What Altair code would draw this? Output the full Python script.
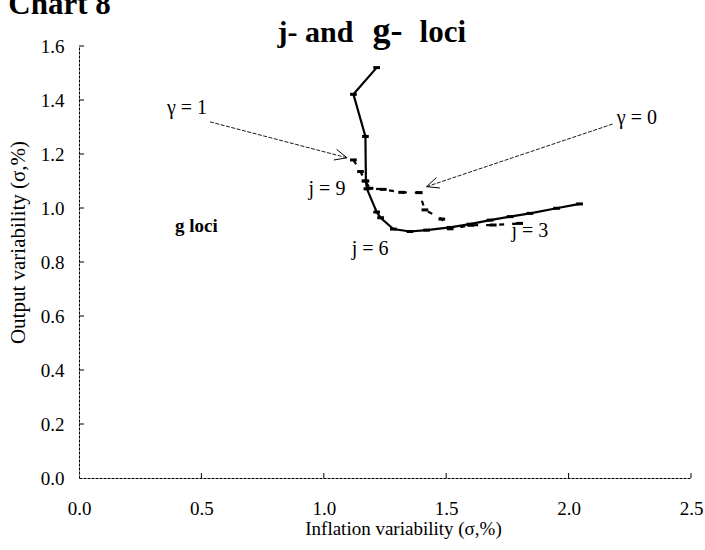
import math
import altair as alt
import pandas as pd

# ---- data ----
solid_x = [1.216, 1.121, 1.170, 1.172, 1.176, 1.216, 1.232, 1.284, 1.352, 1.420, 1.516, 1.597, 1.679, 1.761, 1.842, 1.951, 2.045]
solid_y = [1.520, 1.421, 1.265, 1.100, 1.071, 0.985, 0.964, 0.922, 0.913, 0.918, 0.928, 0.940, 0.955, 0.968, 0.980, 0.999, 1.015]

dashed_x = [1.121, 1.150, 1.168, 1.189, 1.243, 1.318, 1.390, 1.413, 1.482, 1.516, 1.600, 1.692, 1.800]
dashed_y = [1.178, 1.135, 1.100, 1.073, 1.069, 1.058, 1.057, 0.993, 0.959, 0.923, 0.936, 0.937, 0.943]

x_ticks = [0.0, 0.5, 1.0, 1.5, 2.0, 2.5]
y_ticks = [0.0, 0.2, 0.4, 0.6, 0.8, 1.0, 1.2, 1.4, 1.6]

ann_text = ["γ = 1", "γ = 0", "j = 9", "j = 6", "j = 3"]
ann_x = [0.441, 2.279, 1.013, 1.189, 1.842]
ann_y = [1.371, 1.334, 1.072, 0.850, 0.913]

arrow_x1 = [0.535, 2.180]
arrow_y1 = [1.319, 1.311]
arrow_x2 = [1.095, 1.420]
arrow_y2 = [1.186, 1.079]

# ---- layout ----
W, H = 612, 432
XMAX, YMAX = 2.5, 1.6
FONT = "Liberation Serif"

xs = alt.Scale(domain=[0, XMAX], nice=False, zero=True)
ys = alt.Scale(domain=[0, YMAX], nice=False, zero=True)

xaxis = alt.Axis(values=x_ticks, format=".1f", grid=False, ticks=False,
                 labelFont=FONT, labelFontSize=19, labelColor="black", labelPadding=21,
                 labelFlush=False, labelOverlap=False,
                 domainColor="black", domainWidth=1, domainDash=[3, 1],
                 title="Inflation variability (σ,%)", titleFont=FONT, titleFontSize=19,
                 titleFontWeight="normal", titleColor="black",
                 titleX=324, titleY=50, titleBaseline="middle", titleAlign="center")
yaxis = alt.Axis(values=y_ticks, format=".1f", grid=False, ticks=False,
                 labelFont=FONT, labelFontSize=19, labelColor="black", labelPadding=15,
                 labelFlush=False, labelOverlap=False,
                 domainColor="black", domainWidth=1, domainDash=[3, 1],
                 title="Output variability (σ,%)", titleFont=FONT, titleFontSize=21,
                 titleFontWeight="normal", titleColor="black", titleAngle=270,
                 titleX=-61, titleY=196, titleBaseline="middle", titleAlign="center")

X = alt.X("x:Q", scale=xs, axis=xaxis)
Y = alt.Y("y:Q", scale=ys, axis=yaxis)

solid = pd.DataFrame({"x": solid_x, "y": solid_y, "o": list(range(len(solid_x)))})
dashed = pd.DataFrame({"x": dashed_x, "y": dashed_y, "o": list(range(len(dashed_x)))})

solid_line = alt.Chart(solid).mark_line(color="black", strokeWidth=2.2).encode(
    x=X, y=Y, order="o:Q")
dashed_line = alt.Chart(dashed).mark_line(color="black", strokeWidth=2.2, strokeDash=[5, 8]).encode(
    x=X, y=Y, order="o:Q")

blob = "M-1,-0.45L1,-0.45L1,0.45L-1,0.45Z"
solid_pts = alt.Chart(solid).mark_point(shape=blob, filled=True, color="black", size=45, opacity=1).encode(x=X, y=Y)
dashed_pts = alt.Chart(dashed).mark_point(shape=blob, filled=True, color="black", size=45, opacity=1).encode(x=X, y=Y)

# inward tick marks
tx = pd.DataFrame({"x": x_ticks[1:], "y": [0.0] * (len(x_ticks) - 1),
                   "y2": [5 * YMAX / H] * (len(x_ticks) - 1)})
ty = pd.DataFrame({"x": [0.0] * (len(y_ticks) - 1), "x2": [5 * XMAX / W] * (len(y_ticks) - 1),
                   "y": y_ticks[1:]})
xtick_rules = alt.Chart(tx).mark_rule(color="black", strokeWidth=1).encode(x=X, y=Y, y2="y2:Q")
ytick_rules = alt.Chart(ty).mark_rule(color="black", strokeWidth=1).encode(x=X, x2="x2:Q", y=Y)

# arrows
arr = pd.DataFrame({"x": arrow_x1, "y": arrow_y1, "x2": arrow_x2, "y2": arrow_y2})
arrow_lines = alt.Chart(arr).mark_rule(color="black", strokeWidth=0.9, strokeDash=[4, 1.5]).encode(
    x=X, y=Y, x2="x2:Q", y2="y2:Q")
angles = []
for a, b, c, d in zip(arrow_x1, arrow_y1, arrow_x2, arrow_y2):
    dx = (c - a) * W / XMAX
    dy = -(d - b) * H / YMAX
    angles.append(math.degrees(math.atan2(dx, -dy)) % 360)
heads = pd.DataFrame({"x": arrow_x2, "y": arrow_y2, "ang": angles})
arrow_heads = alt.Chart(heads).mark_point(shape="M-0.45,1L0,0L0.45,1", filled=False, color="black",
                                          strokeWidth=0.9, size=600, opacity=1).encode(
    x=X, y=Y, angle=alt.Angle("ang:Q", scale=None))

ann = pd.DataFrame({"x": ann_x, "y": ann_y, "t": ann_text})
ann_marks = alt.Chart(ann).mark_text(font=FONT, fontSize=20, color="black", align="center",
                                     baseline="middle").encode(x=X, y=Y, text="t:N")

gl = pd.DataFrame({"x": [0.392], "y": [0.911], "t": ["g loci"]})
gloci = alt.Chart(gl).mark_text(font=FONT, fontSize=19, fontWeight="bold", color="black",
                                align="left", baseline="alphabetic").encode(x=X, y=Y, text="t:N")

tt = pd.DataFrame({"x": [0.811, 1.199, 1.391], "y": [1.615, 1.615, 1.615],
                   "t": ["j- and", "g-", "loci"], "s": [30, 36, 31]})
title_marks = alt.Chart(tt).mark_text(font=FONT, fontWeight="bold", color="black",
                                      align="left", baseline="alphabetic").encode(
    x=X, y=Y, text="t:N", size=alt.Size("s:Q", scale=None, legend=None))

ct = pd.DataFrame({"x": [-0.289], "y": [1.718], "t": ["Chart 8"]})
chart8 = alt.Chart(ct).mark_text(font=FONT, fontSize=31, fontWeight="bold", color="black",
                                 align="left", baseline="alphabetic").encode(x=X, y=Y, text="t:N")

chart = alt.layer(
    xtick_rules, ytick_rules, arrow_lines, arrow_heads,
    dashed_line, solid_line, dashed_pts, solid_pts,
    ann_marks, gloci, title_marks, chart8
).properties(
    width=W, height=H,
    autosize=alt.AutoSizeParams(type="none"),
    padding={"left": 79, "top": 46, "right": 705 - 79 - W, "bottom": 550 - 46 - H},
    background="white"
).configure_view(stroke=None)

chart.save("out.html", embed_options={"renderer": "svg", "actions": False})
